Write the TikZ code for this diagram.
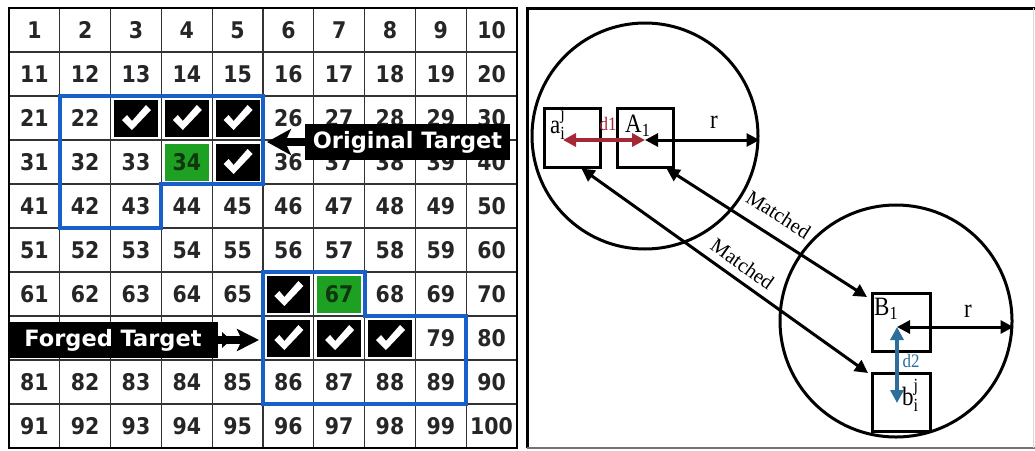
\documentclass[tikz,border=0pt]{standalone}
\usepackage{fontspec}
\usepackage{amsmath}
\setmainfont{Liberation Serif}
\newfontfamily\gridfont{DejaVu Sans}
\usetikzlibrary{arrows.meta,calc}
\definecolor{gridblue}{RGB}{25,95,200}
\definecolor{cellgreen}{RGB}{30,160,35}
\definecolor{greentext}{RGB}{15,55,15}
\definecolor{dred}{RGB}{165,40,55}
\definecolor{dblue}{RGB}{45,110,155}
\makeatletter
\newcommand\skipcellcheck[1]{\edef\sk@tmp{\noexpand\in@{,#1,}{,23,24,25,35,66,76,77,78,71,72,73,74,75,34,67,}}\sk@tmp\ifin@\expandafter\@firstoftwo\else\expandafter\@secondoftwo\fi}
\makeatother
\begin{document}
\begin{tikzpicture}[x=1pt,y=-1pt,
  num/.style={font=\gridfont\bfseries\fontsize{20.5}{20.5}\selectfont, text=black!85, inner sep=0pt, yscale=1.12},
  gridline/.style={line width=1.3pt, black!80},
  bluebox/.style={draw=gridblue, line width=4pt, line join=miter},
  tagbox/.style={fill=black, text=white, font=\gridfont\bfseries\fontsize{22.5}{22.5}\selectfont, inner sep=0pt},
  sq/.style={draw, line width=3pt, minimum width=56pt, minimum height=59pt, inner sep=0pt},
  ring/.style={circle, draw, line width=3pt, inner sep=0pt},
  dbl/.style={line width=3pt, {Triangle[length=13pt,width=13pt]}-{Triangle[length=13pt,width=13pt]}},
  lbl/.style={font=\fontsize{23}{23}\selectfont, inner sep=0pt, yscale=1.15},
  dlbl/.style={font=\fontsize{17}{17}\selectfont, inner sep=0pt, yscale=1.12},
  ml/.style={font=\fontsize{20.5}{20.5}\selectfont, sloped, inner sep=3pt}]
\useasboundingbox (0,0) rectangle (1035,450);
\fill[white] (0,0) rectangle (1035,450);
\def\cw{50.8}\def\ch{44}
% ---------- left panel: grid ----------
\foreach \i in {1,...,9}{
  \draw[gridline] ({9+\cw*\i},8) -- ({9+\cw*\i},448);
  \draw[gridline] (9,{8+\ch*\i}) -- (517,{8+\ch*\i});
}
\draw[line width=2pt] (9,8) rectangle (517,448);
% green cells
\foreach \r/\c in {3/3,6/6}{
  \fill[cellgreen] ({9+\cw*\c+3.5},{8+\ch*\r+3.5}) rectangle ({9+\cw*(\c+1)-3.5},{8+\ch*(\r+1)-3.5});
}
% numbers
\foreach \r in {0,...,9}{
  \foreach \c in {0,...,9}{
    \pgfmathtruncatemacro\n{\r*10+\c+1}
    \skipcellcheck{\n}{}{\node[num] (c\n) at ({9+\cw*(\c+0.5)},{8+\ch*(\r+0.5)}) {\n};}
  }
}
\node[num, text=greentext] (c34) at ({9+\cw*3.5},{8+\ch*3.5}) {34};
\node[num, text=greentext] (c67) at ({9+\cw*6.5},{8+\ch*6.5}) {67};
% checked cells
\foreach \r/\c in {2/2,2/3,2/4,3/4,6/5,7/5,7/6,7/7}{
  \fill[black] ({9+\cw*\c+3.5},{8+\ch*\r+3.5}) rectangle ({9+\cw*(\c+1)-3.5},{8+\ch*(\r+1)-3.5});
  \fill[white, shift={({9+\cw*(\c+0.5)},{8+\ch*(\r+0.5)})}]
    (-14,2) -- (-9,-3) -- (-4,3) -- (10,-13) -- (15,-8) -- (-4,12) -- cycle;
}
% blue outlines
\draw[bluebox] ({9+\cw},{8+2*\ch}) -- ({9+5*\cw},{8+2*\ch}) -- ({9+5*\cw},{8+4*\ch})
  -- ({9+3*\cw},{8+4*\ch}) -- ({9+3*\cw},{8+5*\ch}) -- ({9+\cw},{8+5*\ch}) -- cycle;
\draw[bluebox] ({9+5*\cw},{8+6*\ch}) -- ({9+7*\cw},{8+6*\ch}) -- ({9+7*\cw},{8+7*\ch})
  -- ({9+9*\cw},{8+7*\ch}) -- ({9+9*\cw},{8+9*\ch}) -- ({9+5*\cw},{8+9*\ch}) -- cycle;
% target tags
\node[tagbox, minimum width=205pt, minimum height=36pt] (orig) at (407.5,142) {Original Target};
\coordinate (otip) at (267,142);
\draw[line width=8pt, -{Stealth[length=24pt,width=26pt,inset=6pt]}] (orig.west) -- (otip);
\node[tagbox, minimum width=210pt, minimum height=36pt] (forged) at (113,340) {Forged Target};
\coordinate (ftip) at (259,340);
\draw[line width=8pt, -{Stealth[length=22pt,width=22pt,inset=5pt]}] (forged.east) -- (ftip);
\fill (222,332) -- (231,340) -- (222,348) -- cycle;
% ---------- right panel ----------
\draw[line width=3pt] (527,448) -- (527,8) -- (1035,8);
\draw[black!55, line width=2pt] (527,448) -- (1035,448);
\draw[black!15, line width=1pt] (1033,8) -- (1033,448);
\node[ring, minimum size=226pt] (C1) at (645,136) {};
\node[ring, minimum size=232pt] (C2) at (896,321) {};
\node[sq] (a) at (572,137.5) {};
\node[sq] (A) at (645,137.5) {};
\node[sq, minimum width=58pt, minimum height=58pt] (B) at (901,322) {};
\node[sq, minimum width=58pt, minimum height=58pt] (b) at (901,402) {};
\node[lbl, anchor=base west] (la) at (550,133) {a$_{\text{i}}^{\text{j}}$};
\node[lbl, anchor=base west] (lA) at (625,132) {A$_{\text{1}}$};
\node[lbl, anchor=base west] (lB) at (874,315) {B$_{\text{1}}$};
\node[lbl, anchor=base west] (lb) at (902,405) {b$_{\text{i}}^{\text{j}}$};
\coordinate (pa) at (563,140);
\coordinate (pA) at (645,140);
\coordinate (pB) at (897,327);
\coordinate (pb) at (897,403);
\draw[dbl, dred, line width=3.5pt] (pa) -- (pA);
\draw[dbl] (pA) -- (pA -| C1.east);
\draw[dbl, dblue, line width=3.5pt] (pB) -- (pb);
\draw[dbl] (pB) -- (pB -| C2.east);
\node[dlbl, text=dred, anchor=base] (d1) at (608,130) {d1};
\node[dlbl, text=dblue, anchor=base] (d2) at (911,367) {d2};
\node[lbl, anchor=base] (r1) at (714,128) {r};
\node[lbl, anchor=base] (r2) at (968,317) {r};
\draw[dbl] ([xshift=-8pt]A.south east) -- node[ml, pos=0.5, above=10pt] {Matched} ([xshift=-3.5pt,yshift=-5.5pt]B.north west);
\draw[dbl] ([xshift=-20pt]a.south east) -- node[ml, pos=0.53, above=4pt] {Matched} ([xshift=-2.5pt,yshift=-1.5pt]b.north west);
\end{tikzpicture}
\end{document}
